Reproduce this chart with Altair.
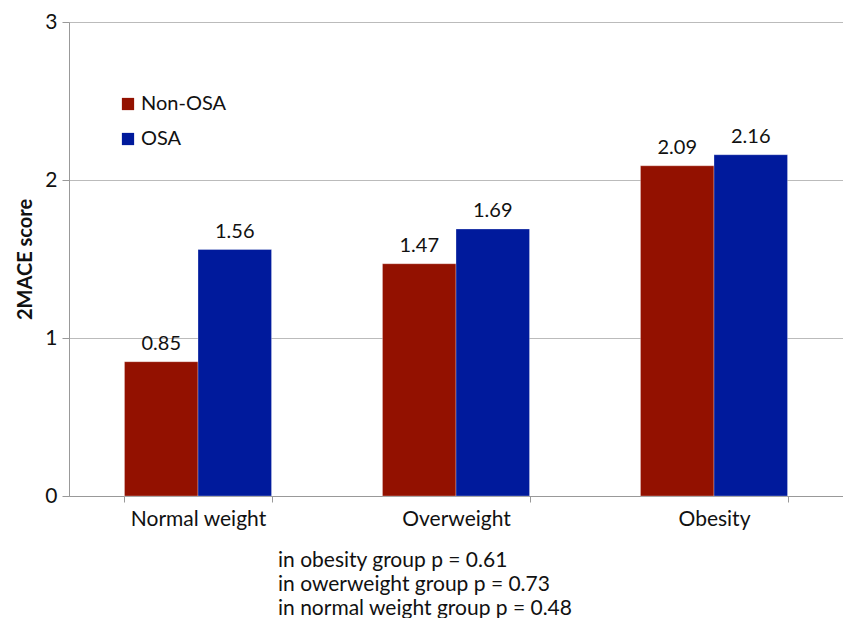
import altair as alt
import pandas as pd

categories = ["Normal weight", "Overweight", "Obesity"]
groups = ["Non-OSA", "OSA"]
non_osa = [0.85, 1.47, 2.09]
osa = [1.56, 1.69, 2.16]
notes = [
    "in obesity group p = 0.61",
    "in owerweight group p = 0.73",
    "in normal weight group p = 0.48",
]

rows = []
for c, a, b in zip(categories, non_osa, osa):
    rows.append({"cat": c, "grp": "Non-OSA", "val": a, "lab": f"{a:.2f}"})
    rows.append({"cat": c, "grp": "OSA", "val": b, "lab": f"{b:.2f}"})
df = pd.DataFrame(rows)

FONT = "Lato"

x = alt.X("cat:N", sort=categories, title=None,
          scale=alt.Scale(paddingInner=0.43, paddingOuter=0.215),
          axis=alt.Axis(labelAngle=0, labelFontSize=21, labelColor="#111",
                        labelFont=FONT, tickBand="extent", tickColor="#999",
                        tickSize=6, domainColor="#999", labelPadding=6,
                        grid=False))
xo = alt.XOffset("grp:N", sort=groups, scale=alt.Scale(paddingInner=0, paddingOuter=0))
y = alt.Y("val:Q", title="2MACE score",
          scale=alt.Scale(domain=[0, 3], nice=False),
          axis=alt.Axis(values=[0, 1, 2, 3], format="d", labelFontSize=21,
                        labelColor="#111", labelFont=FONT, titleFont=FONT,
                        titleFontSize=20, titleFontWeight="bold", titleColor="#111",
                        titlePadding=9, tickColor="#999", tickSize=7,
                        domainColor="#999", gridColor="#bbb", labelPadding=5))

color = alt.Color("grp:N", sort=groups, title=None,
                  scale=alt.Scale(domain=groups, range=["#931100", "#001a9c"]),
                  legend=alt.Legend(orient="none", legendX=49, legendY=72,
                                    symbolType="square", symbolSize=150,
                                    symbolStrokeWidth=0, labelFontSize=20,
                                    labelFont=FONT, labelColor="#111",
                                    rowPadding=15, labelOffset=3, padding=0))

bars = alt.Chart(df).mark_bar(stroke="#ffffff", strokeWidth=0.3).encode(x=x, xOffset=xo, y=y, color=color)
labels = alt.Chart(df).mark_text(baseline="bottom", dy=-8, fontSize=20, font=FONT, color="#111").encode(
    x=x, xOffset=xo, y=y, text="lab:N")

chart = alt.layer(bars, labels).properties(
    width=774, height=474,
    autosize=alt.AutoSizeParams(type="none"),
    padding={"left": 61, "top": 14, "right": 0, "bottom": 122},
    title=alt.TitleParams(text=notes, orient="bottom", anchor="start", frame="group",
                          dx=209, offset=21, fontSize=21, font=FONT,
                          fontWeight="normal", color="#111", lineHeight=24),
).configure_view(stroke="#bbb").configure(background="white")

chart.save("out.html", embed_options={"renderer": "svg", "actions": False})
